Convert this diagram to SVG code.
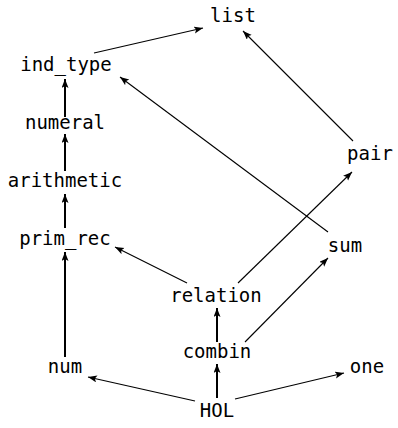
<svg xmlns="http://www.w3.org/2000/svg" width="398" height="428" viewBox="0 0 398 428">
<style>
text{font-family:"DejaVu Sans Mono","Liberation Mono",monospace;font-size:19px;fill:#000;text-anchor:middle}
.e{stroke:#000;fill:none;stroke-width:1.1}
.v{stroke:#000;fill:none;stroke-width:2}
</style>
<defs>
<marker id="ah" markerUnits="userSpaceOnUse" markerWidth="10" markerHeight="8" refX="9" refY="3.5" orient="auto">
<path d="M0,0 L9,3.5 L0,7 L2,3.5 z" fill="#000"/>
</marker>
</defs>
<g id="connectors">
<path class="e" d="M94,53 L203,28" marker-end="url(#ah)"/>
<path class="e" d="M353,141 L243,31" marker-end="url(#ah)"/>
<path class="e" d="M328,232 L120,77" marker-end="url(#ah)"/>
<path class="v" d="M65,117 L65,79" marker-end="url(#ah)"/>
<path class="v" d="M65,171 L65,134" marker-end="url(#ah)"/>
<path class="v" d="M65,228 L65,194" marker-end="url(#ah)"/>
<path class="v" d="M65,357 L65,252" marker-end="url(#ah)"/>
<path class="e" d="M187,283 L115,247" marker-end="url(#ah)"/>
<path class="e" d="M238,283 L352,172" marker-end="url(#ah)"/>
<path class="e" d="M245,342 L328,258" marker-end="url(#ah)"/>
<path class="v" d="M217,342 L217,308" marker-end="url(#ah)"/>
<path class="v" d="M217,398 L217,364" marker-end="url(#ah)"/>
<path class="e" d="M195,401 L88,377" marker-end="url(#ah)"/>
<path class="e" d="M235,399 L344,373" marker-end="url(#ah)"/>
</g>
<g id="list"><text x="233" y="22">list</text></g>
<g id="ind_type"><text x="66" y="71">ind_type</text></g>
<g id="numeral"><text x="65" y="129">numeral</text></g>
<g id="arithmetic"><text x="65" y="187">arithmetic</text></g>
<g id="prim_rec"><text x="65" y="245">prim_rec</text></g>
<g id="pair"><text x="370" y="160">pair</text></g>
<g id="sum"><text x="345" y="252">sum</text></g>
<g id="relation"><text x="216" y="302">relation</text></g>
<g id="combin"><text x="217" y="358">combin</text></g>
<g id="num"><text x="65" y="373">num</text></g>
<g id="one"><text x="367" y="373">one</text></g>
<g id="HOL"><text x="217" y="417">HOL</text></g>
</svg>
